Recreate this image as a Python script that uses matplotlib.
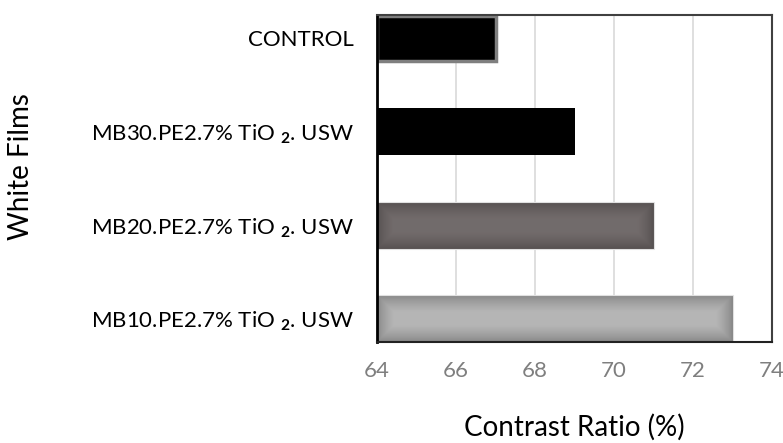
import matplotlib.pyplot as plt
import matplotlib.patches as mpatches
import numpy as np

plt.rcParams['font.family'] = ['Lato', 'DejaVu Sans']
plt.rcParams['mathtext.fontset'] = 'custom'
plt.rcParams['mathtext.rm'] = 'Lato'
plt.rcParams['mathtext.bf'] = 'Lato:bold'

films = ['CONTROL', r'MB30.PE2.7% TiO $_\mathbf{2}$. USW',
         r'MB20.PE2.7% TiO $_\mathbf{2}$. USW', r'MB10.PE2.7% TiO $_\mathbf{2}$. USW']
contrast = [67, 69, 71, 73]
x_ticks = [64, 66, 68, 70, 72, 74]

# centre / edge colours for each bar (soft inner glow look)
centre_rgb = [(0, 0, 0), (0, 0, 0), (0.447, 0.420, 0.420), (0.71, 0.71, 0.71)]
edge_rgb = [(0, 0, 0), (0, 0, 0), (0.33, 0.31, 0.31), (0.52, 0.52, 0.52)]

fig = plt.figure(figsize=(7.83, 4.43), dpi=100)
ax = fig.add_axes([0.4815, 0.228, 0.5045, 0.738])

xmin, xmax = x_ticks[0], x_ticks[-1]
h = 0.5

for i, (name, val) in enumerate(zip(films, contrast)):
    y0 = i - h / 2
    if i == 0:
        # control bar: black with grey outline
        ax.barh(i, val - xmin, left=xmin, height=h * 0.96, color='black',
                edgecolor='#7f7f7f', linewidth=2.5, zorder=3)
        continue
    if centre_rgb[i] == edge_rgb[i]:
        ax.barh(i, val - xmin, left=xmin, height=h, color='black', zorder=3)
        continue
    # glow gradient: darker towards the bar edges
    nx, ny = 400, 60
    gx = np.linspace(0, 1, nx)
    gy = np.linspace(0, 1, ny)
    wx = (val - xmin) / (xmax - xmin) * 395.0
    dx = np.minimum(gx, 1 - gx) * wx
    dy = np.minimum(gy, 1 - gy) * 46.0
    d = np.minimum(dx[None, :], dy[:, None])
    t = np.clip(d / 16.0, 0, 1) ** 0.7
    c0 = np.array(edge_rgb[i])
    c1 = np.array(centre_rgb[i])
    rgb = c0[None, None, :] + (c1 - c0)[None, None, :] * t[:, :, None]
    ax.imshow(rgb, extent=(xmin, val, y0 + h, y0), aspect='auto',
              interpolation='bilinear', zorder=3)
    ax.add_patch(mpatches.Rectangle((xmin, y0), val - xmin, h, fill=False,
                                    edgecolor='#e0e0e0', linewidth=0.8, zorder=3))

ax.set_xlim(xmin, xmax)
ax.set_ylim(len(films) - 0.75, -0.25)
ax.set_yticks(range(len(films)))
ax.set_yticklabels(films, fontsize=16, color='black')
ax.set_xticks(x_ticks)
ax.set_xticklabels([str(v) for v in x_ticks], fontsize=16, color='#7f7f7f')
ax.tick_params(axis='y', length=0, pad=17)
ax.tick_params(axis='x', length=0, pad=14)

ax.grid(axis='x', color='#d9d9d9', linewidth=1.2, zorder=0)
ax.set_axisbelow(True)
ax.spines['left'].set_color('black')
ax.spines['left'].set_linewidth(2)
ax.spines['bottom'].set_color('#222222')
ax.spines['bottom'].set_linewidth(1.5)
for s in ['top', 'right']:
    ax.spines[s].set_color('#404040')
    ax.spines[s].set_linewidth(1.5)
for s in ax.spines.values():
    s.set_zorder(5)

ax.set_xlabel('Contrast Ratio (%)', fontsize=20, va='center')
ax.xaxis.set_label_coords(0.5, -0.262)
fig.text(0.027, 0.623, 'White Films', rotation=90, fontsize=20,
         ha='center', va='center')

fig.savefig('out.png', dpi=100)
